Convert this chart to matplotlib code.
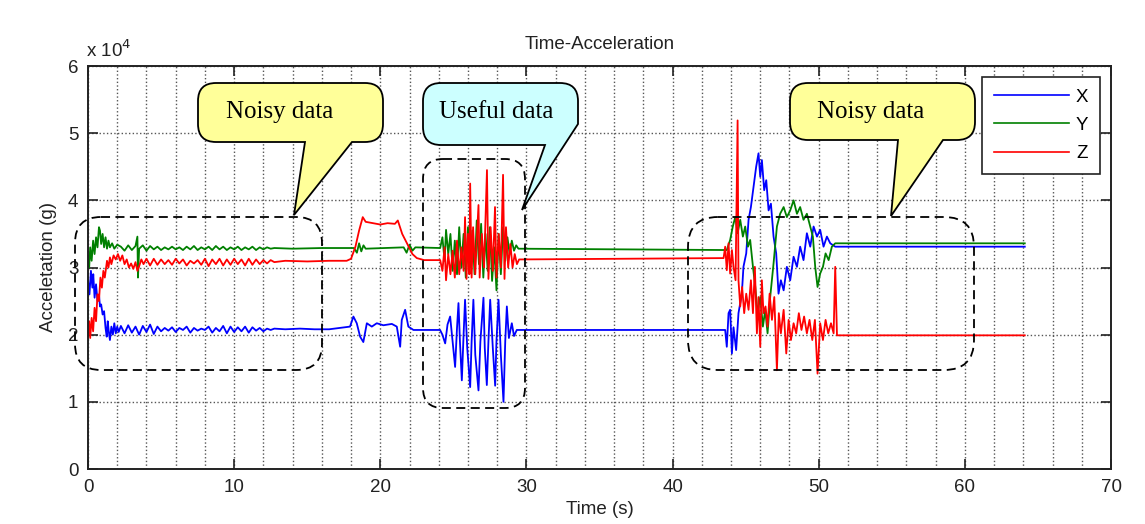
import matplotlib
matplotlib.use("Agg")
import matplotlib.pyplot as plt
from matplotlib.path import Path
from matplotlib.patches import PathPatch, FancyBboxPatch
from matplotlib.ticker import MultipleLocator
import matplotlib.transforms as mtransforms

# --- données (accélération en unités de 1e4 g) ---
x_time = [0.0, 0.1, 0.2, 0.3, 0.36, 0.45, 0.55, 0.65, 0.75, 0.82, 0.9, 1.0, 1.1, 1.2, 1.28,
          1.35, 1.42, 1.5, 1.6, 1.7, 1.8, 1.9, 2.0, 2.1,
          2.25, 2.5, 2.75, 3.0, 3.25, 3.5, 3.75, 4.0, 4.25, 4.5, 4.75, 5.0, 5.25, 5.5, 5.75,
          6.0, 6.25, 6.5, 6.75, 7.0, 7.25, 7.5, 7.75, 8.0, 8.25, 8.5, 8.75, 9.0, 9.25, 9.5,
          9.75, 10.0, 10.25, 10.5, 10.75, 11.0, 11.25, 11.5, 11.75, 12.0, 12.25, 12.5, 12.75,
          13.5, 14.5, 15.5, 16.5, 17.93, 18.16, 18.39, 18.62, 18.84, 19.08, 19.42, 19.76,
          20.21, 20.79, 21.13, 21.36, 21.47, 21.7, 21.92, 22.27, 22.72, 24.09, 24.25, 24.44,
          24.6, 24.78, 24.95, 25.12, 25.25, 25.35, 25.45, 25.58, 25.7, 25.8, 25.95, 26.15,
          26.25, 26.37, 26.5, 26.72, 26.85, 27.06, 27.15, 27.29, 27.4, 27.52, 27.7, 27.86,
          27.95, 28.09, 28.25, 28.43, 28.55, 28.66, 28.8, 29.0, 29.15, 29.34, 43.6, 43.71,
          43.83, 43.94, 44.06, 44.17, 44.35, 44.51, 44.74, 44.85, 45.04, 45.2, 45.36, 45.54,
          45.72, 45.88, 46.0, 46.11, 46.27, 46.41, 46.57, 46.73, 46.91, 47.09, 47.25, 47.41,
          47.6, 47.82, 48.05, 48.28, 48.51, 48.73, 48.96, 49.19, 49.42, 49.65, 49.88, 50.1,
          50.33, 50.56, 50.79, 51.13, 64.1]
x_accel = [2.81, 2.6, 2.95, 2.7, 2.9, 2.55, 2.75, 2.5, 2.6, 2.42, 2.45, 2.3, 2.35, 2.1, 1.97,
           2.2, 2.05, 1.92, 2.12, 2.0, 2.17, 2.02, 2.12, 2.04,
           2.13, 2.02, 2.14, 2.03, 2.12, 2.0, 2.13, 2.04, 2.15, 2.01, 2.12, 2.05, 2.1, 2.06, 2.11,
           2.04, 2.1, 2.07, 2.12, 2.03, 2.1, 2.06, 2.09, 2.07, 2.12, 2.03, 2.1, 2.05, 2.13, 2.02,
           2.12, 2.04, 2.11, 2.05, 2.12, 2.03, 2.11, 2.06, 2.1, 2.05, 2.09, 2.07, 2.09,
           2.08, 2.09, 2.08, 2.08, 2.12, 2.27, 2.17, 1.97, 1.89, 2.17, 2.12, 2.17,
           2.14, 2.16, 2.12, 1.82, 2.22, 2.37, 2.12, 2.07, 2.07, 2.07, 2.0, 1.87,
           2.15, 2.27, 1.9, 1.52, 2.1, 2.47, 1.9, 1.32, 2.0, 2.52, 1.8, 1.22,
           1.9, 2.52, 1.7, 1.17, 1.9, 2.55, 1.8, 1.25, 1.9, 2.52, 1.8, 1.24,
           1.9, 2.52, 1.7, 1.0, 1.9, 2.42, 1.95, 2.17, 1.98, 2.07, 2.07, 1.82,
           2.32, 2.37, 1.72, 2.11, 1.77, 2.32, 2.61, 3.01, 3.21, 3.71, 3.9, 4.2,
           4.5, 4.7, 4.35, 4.6, 4.15, 4.3, 3.85, 3.95, 3.46, 3.21, 2.61, 2.81,
           2.66, 3.01, 2.81, 3.16, 3.01, 3.31, 3.11, 3.51, 3.31, 3.61, 3.46, 3.56,
           3.31, 3.46, 3.36, 3.31, 3.31]

y_time = [0.0, 0.08, 0.15, 0.25, 0.35, 0.45, 0.55, 0.65, 0.75, 0.82, 0.9, 1.0, 1.1, 1.2, 1.3,
          1.4, 1.5, 1.65, 1.8, 2.0,
          2.25, 2.5, 2.75, 3.0, 3.25, 3.38, 3.42, 3.5, 3.75, 4.0, 4.25, 4.5, 4.75, 5.0, 5.25,
          5.5, 5.75, 6.0, 6.25, 6.5, 6.75, 7.0, 7.25, 7.5, 7.75, 8.0, 8.25, 8.5, 8.75, 9.0,
          9.25, 9.5, 9.75, 10.0, 10.25, 10.5, 10.75, 11.0, 11.25, 11.5, 11.75, 12.0, 12.25,
          12.5, 12.75, 14.0, 16.0, 18.2, 18.4, 18.55, 18.7, 18.85, 19.0, 21.6, 21.8, 22.0,
          22.2, 22.4, 24.1, 24.25, 24.4, 24.5, 24.65, 24.8, 24.95, 25.1, 25.25, 25.4, 25.55,
          25.7, 25.85, 26.0, 26.15, 26.3, 26.45, 26.6, 26.75, 26.9, 27.05, 27.2, 27.35, 27.5,
          27.65, 27.8, 27.95, 28.1, 28.25, 28.4, 28.55, 28.7, 28.85, 29.0, 29.15, 29.3, 29.45,
          43.71, 43.94, 44.12, 44.29, 44.45, 44.63, 44.81, 44.97, 45.16, 45.31, 45.5, 45.66,
          45.81, 46.0, 46.18, 46.34, 46.5, 46.68, 46.91, 47.14, 47.36, 47.6, 47.82, 48.05,
          48.28, 48.51, 48.73, 48.96, 49.19, 49.42, 49.6, 49.76, 49.92, 50.1, 50.29, 50.47,
          50.68, 50.9, 51.13, 64.1]
y_accel = [3.16, 3.0, 3.3, 3.1, 3.4, 3.2, 3.45, 3.3, 3.6, 3.55, 3.35, 3.5, 3.3, 3.45, 3.28,
           3.4, 3.3, 3.36, 3.28, 3.34,
           3.31, 3.25, 3.33, 3.26, 3.32, 3.46, 2.85, 3.28, 3.33, 3.25, 3.32, 3.27, 3.31, 3.26, 3.3,
           3.27, 3.31, 3.27, 3.3, 3.26, 3.31, 3.27, 3.32, 3.26, 3.3, 3.27, 3.31, 3.26, 3.32, 3.27,
           3.31, 3.26, 3.3, 3.27, 3.31, 3.26, 3.3, 3.27, 3.31, 3.26, 3.3, 3.27, 3.3,
           3.28, 3.29, 3.28, 3.29, 3.29, 3.22, 3.36, 3.24, 3.33, 3.28, 3.3, 3.22, 3.34,
           3.25, 3.3, 3.29, 3.45, 3.1, 3.56, 3.2, 3.5, 2.95, 3.4, 2.9, 3.6, 3.0,
           3.5, 2.85, 3.6, 3.0, 3.55, 2.9, 3.7, 3.05, 3.65, 2.85, 3.5, 2.95, 3.6,
           2.8, 3.3, 2.66, 3.5, 2.9, 3.6, 3.1, 3.45, 3.2, 3.4, 3.25, 3.33, 3.28,
           3.26, 3.41, 3.61, 3.75, 3.51, 3.71, 3.46, 3.61, 3.31, 3.41, 3.01, 2.71,
           2.32, 2.56, 2.12, 2.37, 2.02, 2.56, 3.06, 3.61, 3.8, 3.9, 3.75, 3.85,
           4.0, 3.8, 3.9, 3.71, 3.8, 3.61, 3.46, 3.01, 2.71, 2.91, 3.01, 3.21,
           3.11, 3.31, 3.36, 3.36]

z_time = [0.0, 0.08, 0.15, 0.25, 0.35, 0.45, 0.55, 0.65, 0.75, 0.85, 0.95, 1.05, 1.15, 1.3,
          1.4, 1.5, 1.6, 1.75, 1.9, 2.05, 2.2, 2.35, 2.5, 2.65, 2.8, 2.95, 3.1, 3.25, 3.38,
          3.5, 3.65, 3.8, 4.0, 4.25, 4.5, 4.75, 5.0, 5.25, 5.5, 5.75, 6.0, 6.25, 6.5, 6.75,
          7.0, 7.25, 7.5, 7.75, 8.0, 8.25, 8.5, 8.75, 9.0, 9.25, 9.5, 9.75, 10.0, 10.25, 10.5,
          10.75, 11.0, 11.25, 11.5, 11.75, 12.0, 12.25, 12.5, 12.75, 13.5, 15.0, 16.5, 17.7,
          18.0, 18.3, 18.55, 18.8, 19.0, 19.5, 20.0, 20.5, 21.0, 21.2, 21.5, 21.9, 22.2, 22.5,
          23.0, 24.1, 24.25, 24.4, 24.5, 24.65, 24.8, 24.95, 25.1, 25.25, 25.4, 25.55, 25.7,
          25.8, 25.9, 26.0, 26.1, 26.15, 26.25, 26.35, 26.5, 26.6, 26.72, 26.8, 26.95, 27.1,
          27.2, 27.3, 27.4, 27.55, 27.7, 27.85, 27.95, 28.1, 28.25, 28.4, 28.5, 28.6, 28.75,
          28.9, 29.05, 29.2, 29.35, 29.5, 43.49, 43.6, 43.71, 43.83, 43.94, 44.06, 44.17,
          44.31, 44.4, 44.45, 44.51, 44.63, 44.76, 44.9, 45.04, 45.2, 45.36, 45.5, 45.63,
          45.77, 45.88, 46.0, 46.11, 46.22, 46.36, 46.5, 46.64, 46.8, 46.96, 47.14, 47.27,
          47.41, 47.6, 47.78, 47.94, 48.1, 48.28, 48.46, 48.64, 48.82, 49.0, 49.19, 49.37,
          49.56, 49.74, 49.92, 50.1, 50.29, 50.47, 50.65, 50.84, 51.02, 51.13, 51.25, 64.1]
z_accel = [1.97, 2.2, 1.95, 2.25, 2.05, 2.4, 2.2, 2.6, 2.5, 2.85, 2.7, 2.95, 2.85, 3.1,
           3.0, 3.15, 3.05, 3.18, 3.12, 3.2, 3.1, 3.18, 3.05, 3.12, 3.0, 3.06, 2.98, 3.08, 2.95,
           3.02, 3.12, 3.05, 3.13, 3.03, 3.13, 3.04, 3.12, 3.05, 3.11, 3.04, 3.13, 3.06, 3.12, 3.03,
           3.1, 3.06, 3.11, 3.04, 3.13, 3.02, 3.12, 3.05, 3.13, 3.03, 3.12, 3.04, 3.13, 3.05, 3.12,
           3.03, 3.13, 3.04, 3.12, 3.05, 3.11, 3.06, 3.11, 3.08, 3.1, 3.09, 3.1, 3.1,
           3.13, 3.31, 3.55, 3.75, 3.68, 3.66, 3.64, 3.66, 3.65, 3.7, 3.5, 3.33, 3.2, 3.14,
           3.11, 3.11, 2.95, 3.3, 2.81, 3.2, 2.9, 3.25, 2.85, 3.4, 2.9, 3.3, 2.95,
           3.75, 2.83, 3.5, 2.9, 4.25, 2.85, 3.6, 2.9, 3.4, 3.93, 2.85, 3.5, 3.0,
           3.7, 4.45, 2.83, 3.6, 2.95, 3.9, 2.85, 3.5, 3.0, 4.38, 2.83, 3.6, 3.0,
           3.35, 3.0, 3.2, 3.05, 3.12, 3.14, 3.31, 2.96, 3.36, 2.91, 3.26, 3.01,
           2.81, 4.3, 5.19, 2.81, 2.42, 2.71, 2.32, 2.61, 2.37, 2.81, 2.32, 3.01,
           2.02, 2.56, 1.82, 2.81, 2.32, 2.42, 2.12, 2.61, 2.22, 2.56, 1.47, 2.32,
           2.02, 2.37, 1.72, 2.22, 1.92, 2.17, 2.02, 2.32, 2.07, 2.27, 2.02, 2.22,
           1.92, 2.22, 1.42, 2.17, 1.92, 2.22, 2.02, 2.17, 2.02, 3.01, 1.99, 1.99]

series_names = ["X", "Y", "Z"]
series_colors = ["#0000ff", "#008000", "#ff0000"]

x_ticks = [0, 10, 20, 30, 40, 50, 60, 70]
y_ticks = [0, 1, 2, 3, 4, 5, 6]

# --- figure ---
W, H = 1145, 524
fig = plt.figure(figsize=(W / 100, H / 100), dpi=100)
plt.rcParams['font.family'] = ['Liberation Sans', 'DejaVu Sans']
ax = fig.add_axes([88 / W, 1 - 469 / H, (1111 - 88) / W, (469 - 66) / H])

for t, a, name, col in zip([x_time, y_time, z_time], [x_accel, y_accel, z_accel],
                           series_names, series_colors):
    ax.plot(t, a, color=col, lw=1.3, label=name)

ax.set_xlim(0, 70)
ax.set_ylim(0, 6)
ax.set_xticks(x_ticks)
ax.set_yticks(y_ticks)
ax.xaxis.set_minor_locator(MultipleLocator(2))
ax.tick_params(direction='in', length=7, width=1.2, top=True, right=True,
               labelsize=13.5, colors='#222222', pad=7)
ax.tick_params(which='minor', length=0)
ax.grid(True, which='major', axis='y', linestyle=':', color='#555555', lw=1.0)
ax.grid(True, which='both', axis='x', linestyle=':', color='#555555', lw=1.0)
for sp in ax.spines.values():
    sp.set_linewidth(1.4)
    sp.set_color('#222222')

ax.set_title('Time-Acceleration', fontsize=13.5, color='#222222', pad=12)
ax.set_xlabel('Time (s)', fontsize=13.5, color='#222222', labelpad=4)
ax.set_ylabel('Acceletation (g)', fontsize=13.5, color='#222222', labelpad=8)

leg = ax.legend(loc='upper right', fontsize=13.5, handlelength=4.0, labelspacing=0.6,
                fancybox=False, framealpha=1, edgecolor='#222222',
                borderaxespad=0.6, handletextpad=0.4, borderpad=0.6)
leg.get_frame().set_linewidth(1.2)
for line in leg.get_lines():
    line.set_linewidth(1.2)

# transformation en pixels image (origine en haut à gauche)
px = mtransforms.Affine2D().scale(1 / W, -1 / H).translate(0, 1) + fig.transFigure

fig.text(86, 57, 'x 10$^{4}$', transform=px, fontsize=13.5, color='#222222',
         ha='left', va='baseline')


def callout(x0, y0, x1, y1, r, b_left, tip, b_right, fill, cut_corner=False):
    """Bulle arrondie avec une pointe, coordonnées en pixels image."""
    verts = [(x0 + r, y0), (x1 - r, y0), (x1, y0), (x1, y0 + r)]
    codes = [Path.MOVETO, Path.LINETO, Path.CURVE3, Path.CURVE3]
    if cut_corner:
        verts += [b_right, tip, b_left]
        codes += [Path.LINETO] * 3
    else:
        verts += [(x1, y1 - r), (x1, y1), (x1 - r, y1), b_right, tip, b_left]
        codes += [Path.LINETO, Path.CURVE3, Path.CURVE3, Path.LINETO, Path.LINETO, Path.LINETO]
    verts += [(x0 + r, y1), (x0, y1), (x0, y1 - r), (x0, y0 + r), (x0, y0), (x0 + r, y0),
              (x0 + r, y0)]
    codes += [Path.LINETO, Path.CURVE3, Path.CURVE3, Path.LINETO, Path.CURVE3, Path.CURVE3,
              Path.CLOSEPOLY]
    patch = PathPatch(Path(verts, codes), facecolor=fill, edgecolor='black', lw=1.3,
                      transform=px, zorder=5)
    fig.add_artist(patch)


def dashed_box(x0, y0, x1, y1, r):
    box = FancyBboxPatch((x0, y0), x1 - x0, y1 - y0,
                         boxstyle=f"round,pad=0,rounding_size={r}",
                         fill=False, edgecolor='black', lw=1.3, linestyle=(0, (5, 3)),
                         transform=px, zorder=4)
    fig.add_artist(box)


serif = ['Liberation Serif', 'DejaVu Serif']

callout(198, 83, 383, 142, 18, (305, 142), (294, 215), (352, 142), '#ffff99')
fig.text(280, 112, 'Noisy data', transform=px, fontsize=18, family=serif,
         ha='center', va='center', zorder=6)

callout(423, 83, 578, 145, 18, (545, 145), (522, 210), (578, 124), '#ccffff', cut_corner=True)
fig.text(496, 112, 'Useful data', transform=px, fontsize=18, family=serif,
         ha='center', va='center', zorder=6)

callout(790, 83, 975, 140, 18, (898, 140), (891, 216), (943, 140), '#ffff99')
fig.text(871, 112, 'Noisy data', transform=px, fontsize=18, family=serif,
         ha='center', va='center', zorder=6)

dashed_box(75, 217, 322, 370, 26)
dashed_box(423, 159, 525, 408, 20)
dashed_box(688, 217, 974, 370, 30)

fig.savefig("out.png", dpi=100)
